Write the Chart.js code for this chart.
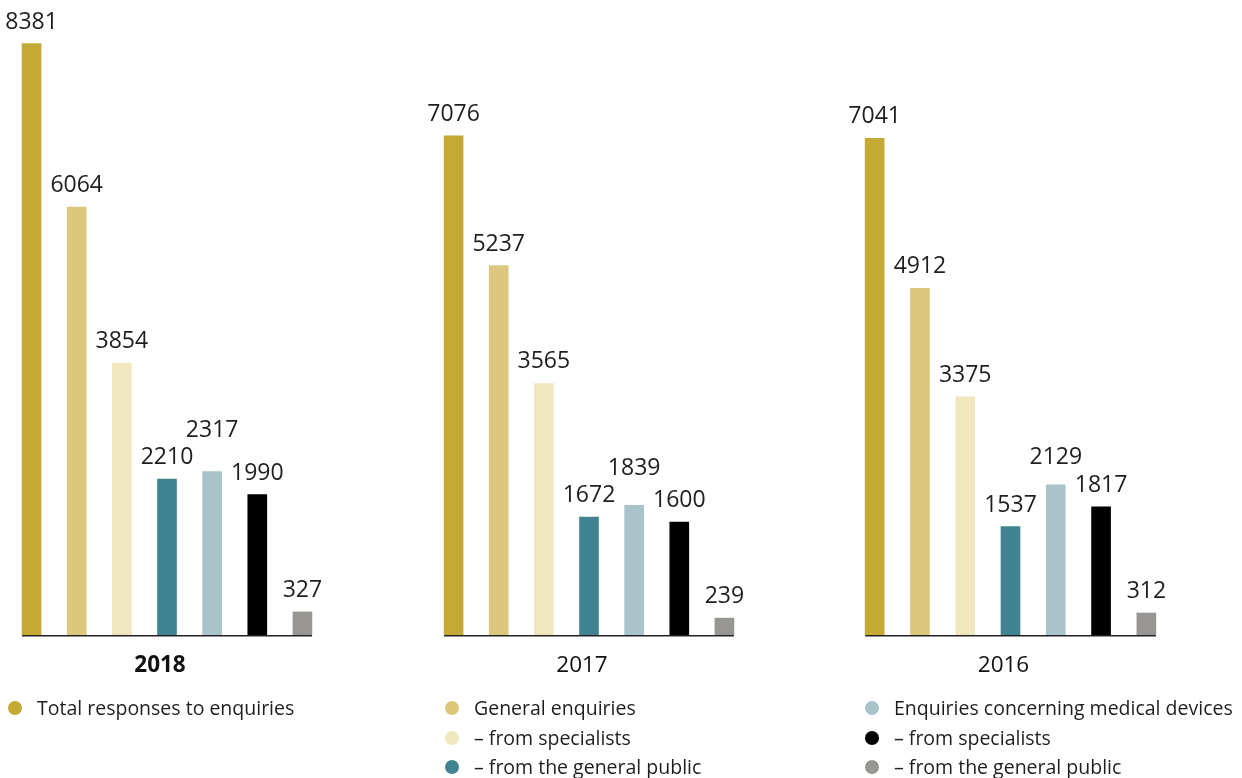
<!DOCTYPE html>
<html>
<head>
<meta charset="utf-8">
<script src="https://cdn.jsdelivr.net/npm/chart.js@4.4.1/dist/chart.umd.min.js"></script>
<style>
  html, body { margin: 0; padding: 0; background: #ffffff; }
  body { width: 1242px; height: 778px; position: relative; overflow: hidden; font-family: "Open Sans", sans-serif; }
  .panel { position: absolute; top: 0; height: 700px; }
  .legend { position: absolute; top: 693px; font-size: 19.5px; color: #1e1e1e; }
  .item { position: relative; height: 29.5px; line-height: 29.5px; white-space: nowrap; }
  .dot { position: absolute; width: 14px; height: 14px; border-radius: 50%; top: 8px; }
</style>
</head>
<body>
<div class="panel" id="p0"><canvas id="c0"></canvas></div>
<div class="panel" id="p1"><canvas id="c1"></canvas></div>
<div class="panel" id="p2"><canvas id="c2"></canvas></div>

<div class="legend" id="lg0" style="left:0px;"></div>
<div class="legend" id="lg1" style="left:437px;"></div>
<div class="legend" id="lg2" style="left:857px;"></div>

<script>
// ---- data ----
const years = ['2018', '2017', '2016'];
const categories = [
  'Total responses to enquiries',
  'General enquiries',
  '– from specialists',
  '– from the general public',
  'Enquiries concerning medical devices',
  '– from specialists',
  '– from the general public'
];
const values2018 = [8381, 6064, 3854, 2210, 2317, 1990, 327];
const values2017 = [7076, 5237, 3565, 1672, 1839, 1600, 239];
const values2016 = [7041, 4912, 3375, 1537, 2129, 1817, 312];
const seriesValues = [values2018, values2017, values2016];
const legendGroups = [[0], [1, 2, 3], [4, 5, 6]];

// ---- styles ----
const barColors = ['#C4A934', '#DBC87C', '#F0E7BF', '#418491', '#A8C3C9', '#000000', '#979692'];
const panelLayout = [
  { left: 9, width: 316, bold: true },
  { left: 431, width: 316, bold: false },
  { left: 852, width: 317, bold: false }
];
const SIDE = 40;

const labelPlugin = {
  id: 'barLabels',
  afterDatasetsDraw(chart, args, opts) {
    const ctx = chart.ctx;
    const meta = chart.getDatasetMeta(0);
    const bars = meta.data;
    const vals = chart.data.datasets[0].data;
    const base = chart.scales.y.getPixelForValue(0);
    ctx.save();
    // baseline
    const x0 = bars[0].x - bars[0].width / 2;
    const x1 = bars[bars.length - 1].x + bars[bars.length - 1].width / 2;
    ctx.strokeStyle = '#222222';
    ctx.lineWidth = 1.6;
    ctx.beginPath();
    ctx.moveTo(x0, base + 0.8);
    ctx.lineTo(x1, base + 0.8);
    ctx.stroke();

    // value labels with collision avoidance
    ctx.font = '23px "Open Sans"';
    ctx.fillStyle = '#1e1e1e';
    ctx.textAlign = 'center';
    ctx.textBaseline = 'alphabetic';
    const H = 16.5, GAP = 11;
    const order = vals.map((v, i) => i).sort((a, b) => vals[a] - vals[b]);
    const placed = [];
    order.forEach(i => {
      const txt = String(vals[i]);
      const w = ctx.measureText(txt).width;
      const x = bars[i].x;
      let y = bars[i].y - 15;
      let moved = true, guard = 0;
      while (moved && guard < 20) {
        moved = false; guard++;
        for (const p of placed) {
          const hOver = Math.abs(p.x - x) < (p.w + w) / 2;
          const top = y - H, bottom = y;
          const vOver = top < p.bottom + GAP && bottom > p.top - GAP;
          if (hOver && vOver) {
            y = p.top - GAP;
            moved = true;
          }
        }
      }
      placed.push({ x, w, top: y - H, bottom: y });
      ctx.fillText(txt, x, y);
    });

    // year label
    ctx.font = (opts.bold ? 'bold ' : '') + '22.5px "Open Sans"';
    ctx.fillStyle = '#111111';
    ctx.fillText(opts.year, (x0 + x1) / 2 - 7, 672);
    ctx.restore();
  }
};

years.forEach((yr, k) => {
  const lay = panelLayout[k];
  const div = document.getElementById('p' + k);
  div.style.left = (lay.left - SIDE) + 'px';
  div.style.width = (lay.width + 2 * SIDE) + 'px';
  new Chart(document.getElementById('c' + k), {
    type: 'bar',
    data: {
      labels: categories,
      datasets: [{
        data: seriesValues[k],
        backgroundColor: barColors,
        borderWidth: 0,
        barThickness: 19
      }]
    },
    options: {
      responsive: true,
      maintainAspectRatio: false,
      animation: false,
      layout: { padding: { left: SIDE, right: SIDE, top: 0, bottom: 65 } },
      scales: {
        x: { display: false },
        y: { display: false, min: 0, max: 9000 }
      },
      plugins: {
        legend: { display: false },
        tooltip: { enabled: false },
        barLabels: { year: yr, bold: lay.bold }
      }
    },
    plugins: [labelPlugin]
  });
});

// HTML legend
legendGroups.forEach((grp, g) => {
  const el = document.getElementById('lg' + g);
  grp.forEach(i => {
    const item = document.createElement('div');
    item.className = 'item';
    item.style.paddingLeft = '37px';
    const dot = document.createElement('span');
    dot.className = 'dot';
    dot.style.left = '8px';
    dot.style.background = barColors[i];
    item.appendChild(dot);
    item.appendChild(document.createTextNode(categories[i]));
    el.appendChild(item);
  });
});
</script>
</body>
</html>
